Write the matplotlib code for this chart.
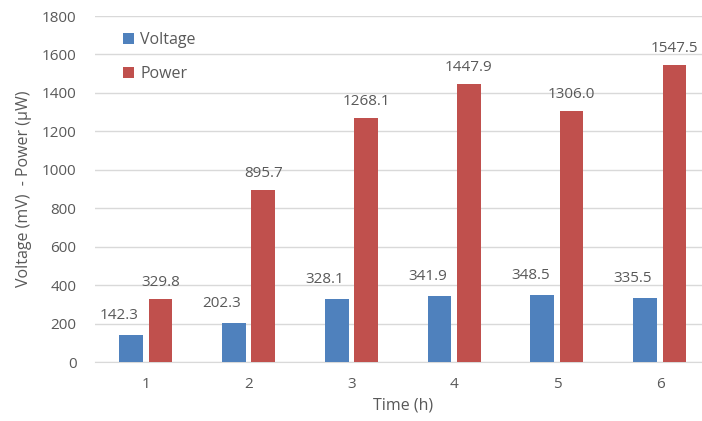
import numpy as np
import matplotlib.pyplot as plt

plt.rcParams['font.family'] = ['Open Sans', 'DejaVu Sans']

hours = ['1', '2', '3', '4', '5', '6']
voltage = [142.3, 202.3, 328.1, 341.9, 348.5, 335.5]
power = [329.8, 895.7, 1268.1, 1447.9, 1306.0, 1547.5]

blue = '#4F81BD'
red = '#C0504D'
grey = '#595959'

fig = plt.figure(figsize=(7.02, 4.21), dpi=100)
ax = fig.add_axes([94.6/702, 59/421, 616.8/702, 346/421])

x = np.arange(1, len(hours) + 1)
w = 0.23
bv = ax.bar(x - 0.145, voltage, w, color=blue, label='Voltage', zorder=3)
bp = ax.bar(x + 0.14, power, w, color=red, label='Power', zorder=3)

# data labels, the voltage ones sit a bit to the left like in the original
for b, v in zip(bv, voltage):
    ax.annotate(f'{v:.1f}', (b.get_x() + b.get_width()/2, v), xytext=(-12, 12),
                textcoords='offset pixels', ha='center', va='bottom',
                fontsize=11, color=grey)
for b, v in zip(bp, power):
    ax.annotate(f'{v:.1f}', (b.get_x() + b.get_width()/2, v), xytext=(0, 9),
                textcoords='offset pixels', ha='center', va='bottom',
                fontsize=11, color=grey)

ax.set_xlim(0.5, 6.5)
ax.set_ylim(0, 1800)
ax.set_yticks(range(0, 1801, 200))
ax.set_xticks(x)
ax.set_xticklabels(hours)
ax.grid(axis='y', color='#D9D9D9', linewidth=1, zorder=0)
for s in ['top', 'right', 'left']:
    ax.spines[s].set_visible(False)
ax.spines['bottom'].set_color('#D9D9D9')
ax.tick_params(axis='both', length=0, labelsize=11, colors=grey)
ax.tick_params(axis='y', pad=13)
ax.tick_params(axis='x', pad=11)

ax.set_xlabel('Time (h)', fontsize=11.5, color=grey, labelpad=4)
ax.set_ylabel('Voltage (mV)  - Power (\u00b5W)', fontsize=11.5, color=grey, labelpad=7)

leg = ax.legend(loc='upper left', bbox_to_anchor=(0.022, 0.995), frameon=False,
                handlelength=0.7, handleheight=0.7, handletextpad=0.4,
                labelspacing=1.15, fontsize=11.5)
for t in leg.get_texts():
    t.set_color(grey)

fig.savefig('out.png', dpi=100)
